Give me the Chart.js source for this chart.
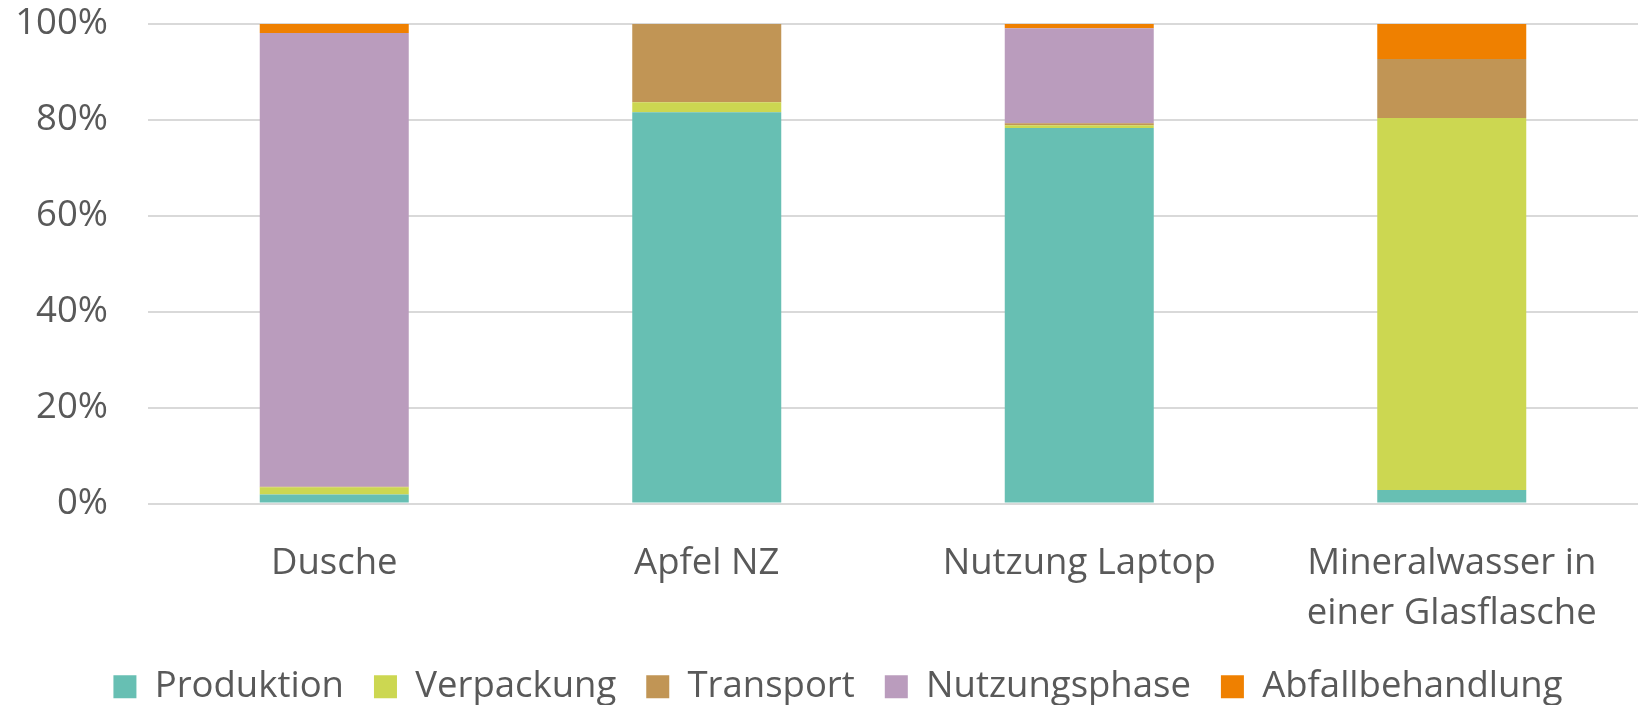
<!DOCTYPE html>
<html>
<head>
<meta charset="utf-8">
<script src="https://cdn.jsdelivr.net/npm/chart.js@4"></script>
<style>
  html, body { margin: 0; padding: 0; background: #fff; }
  #wrap { width: 1638px; height: 705px; }
</style>
</head>
<body>
<div id="wrap"><canvas id="chart"></canvas></div>
<script>
const kategorien = ['Dusche', 'Apfel NZ', 'Nutzung Laptop', ['Mineralwasser in', 'einer Glasflasche']];

// Anteile in %
const produktion      = [1.9, 81.6, 78.3, 2.8];
const verpackung      = [1.5, 2.1, 0.6, 77.6];
const transport       = [0.1, 16.3, 0.4, 12.3];
const nutzungsphase   = [94.6, 0, 19.8, 0];
const abfallbehandlung = [1.9, 0, 0.9, 7.3];

const yTicks = [0, 20, 40, 60, 80, 100];

const schrift = "'Open Sans', 'Noto Sans', sans-serif";
const textFarbe = '#595959';

// Legende etwas nach rechts schieben (wie im Original)
const legendeVersatz = {
    id: 'legendeVersatz',
    afterLayout(chart) {
        chart.legend.left += 24;
    }
};

const ctx = document.getElementById('chart').getContext('2d');
new Chart(ctx, {
    type: 'bar',
    data: {
        labels: kategorien,
        datasets: [
            { label: 'Produktion', data: produktion, backgroundColor: '#67bfb3' },
            { label: 'Verpackung', data: verpackung, backgroundColor: '#ccd751' },
            { label: 'Transport', data: transport, backgroundColor: '#c19555' },
            { label: 'Nutzungsphase', data: nutzungsphase, backgroundColor: '#ba9cbd' },
            { label: 'Abfallbehandlung', data: abfallbehandlung, backgroundColor: '#ef8000' }
        ]
    },
    plugins: [legendeVersatz],
    options: {
        responsive: true,
        maintainAspectRatio: false,
        animation: false,
        layout: { padding: { left: 14, right: 0, top: 24, bottom: -10 } },
        datasets: { bar: { barPercentage: 0.8, categoryPercentage: 0.5 } },
        plugins: {
            legend: {
                position: 'bottom',
                labels: {
                    color: textFarbe,
                    font: { family: schrift, size: 36.5 },
                    boxWidth: 23,
                    boxHeight: 23,
                    padding: 30
                }
            },
            tooltip: { enabled: false }
        },
        scales: {
            x: {
                stacked: true,
                grid: { display: false },
                border: { display: false },
                ticks: {
                    color: textFarbe,
                    font: { family: schrift, size: 36.5, lineHeight: 1.37 },
                    padding: 27,
                    maxRotation: 0
                },
                afterFit: (scale) => {
                    scale.height = 135;
                    scale.paddingLeft = 0;
                    scale.paddingRight = 0;
                }
            },
            y: {
                stacked: true,
                min: 0,
                max: 100,
                afterBuildTicks: (axis) => { axis.ticks = yTicks.map(v => ({ value: v })); },
                grid: { color: '#d9d9d9', lineWidth: 2, drawTicks: false },
                border: { display: false },
                ticks: {
                    color: textFarbe,
                    font: { family: schrift, size: 36.5 },
                    padding: 40,
                    callback: (v) => v + '%'
                },
                afterFit: (scale) => {
                    scale.width = 134;
                    scale.paddingTop = 0;
                    scale.paddingBottom = 0;
                }
            }
        }
    }
});
</script>
</body>
</html>
